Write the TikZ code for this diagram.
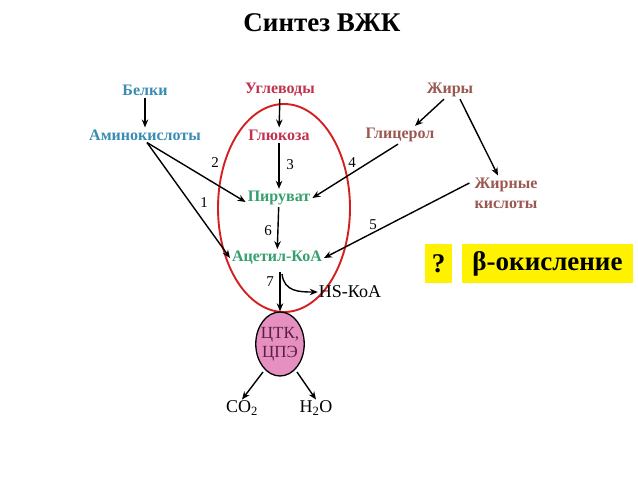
\documentclass[tikz,border=0pt]{standalone}
\usepackage{fontspec}
\setmainfont{Liberation Serif}
\usetikzlibrary{arrows.meta,shapes.geometric}
\definecolor{cblue}{HTML}{3A8CB2}
\definecolor{cred}{HTML}{C0334E}
\definecolor{cbrown}{HTML}{9A5850}
\definecolor{cgreen}{HTML}{35A06E}
\definecolor{cpink}{HTML}{E690C2}
\definecolor{cdark}{HTML}{5A2040}
\definecolor{ellred}{HTML}{D42020}
\tikzset{
  lbl/.style={font=\fontsize{16}{18}\selectfont\bfseries, inner sep=2pt},
  num/.style={font=\fontsize{15}{17}\selectfont, inner sep=0pt},
  arr/.style={-{Stealth[length=8pt,width=6.5pt]}, line width=1.4pt, black},
  ybox/.style={fill=yellow, font=\fontsize{27}{30}\selectfont\bfseries, minimum height=39pt, inner sep=3pt}
}
\begin{document}
\begin{tikzpicture}[x=1pt,y=-1pt]
\useasboundingbox (0,0) rectangle (638,479);
\node[font=\fontsize{27}{30}\selectfont\bfseries] (title) at (322,23) {Синтез ВЖК};
% red ellipse
\draw[ellred, line width=1.9pt] (284,208) ellipse [x radius=66, y radius=104];
% nodes
\node[lbl, cblue] (belki) at (145,90) {Белки};
\node[lbl, cblue] (amino) at (145,135) {Аминокислоты};
\node[lbl, cred] (uglev) at (280,90) {Углеводы};
\node[lbl, cred] (gluc) at (279,135) {Глюкоза};
\node[lbl, cbrown] (fats) at (450,90) {Жиры};
\node[lbl, cbrown] (glyc) at (400,135) {Глицерол};
\node[lbl, cbrown, align=center, font=\fontsize{16}{20}\selectfont\bfseries] (fatty) at (506,193) {Жирные\\кислоты};
\node[lbl, cgreen] (pyr) at (279,198) {Пируват};
\node[lbl, cgreen] (acet) at (277,258) {Ацетил-КоА};
\node[font=\fontsize{18}{20}\selectfont, inner sep=1pt] (hs) at (350,292) {HS-КоА};
\node[ellipse, draw=black, line width=1.3pt, fill=cpink, minimum width=46pt, minimum height=64pt, inner sep=-2pt,
      align=center, text=cdark, font=\fontsize{17}{19}\selectfont] (ctk) at (280,344) {ЦТК,\\ЦПЭ};
\node[font=\fontsize{18}{20}\selectfont, inner sep=1pt] (co2) at (242,408) {CO\textsubscript{2}};
\node[font=\fontsize{18}{20}\selectfont, inner sep=1pt] (h2o) at (316,408) {H\textsubscript{2}O};
\node[ybox, minimum width=27pt] (q) at (438.5,263.5) {?};
\node[ybox, minimum width=171pt] (beta) at (547.5,263.5) {β-окисление};
% arrows
\draw[arr] (belki) -- (amino);
\draw[arr] (uglev) -- (gluc);
\draw[arr] (gluc) -- (pyr);
\draw[arr] ([xshift=-6pt]fats.south) -- ([xshift=15pt]glyc.north);
\draw[arr] ([xshift=10pt]fats.south) -- ([xshift=-8pt]fatty.north);
\draw[arr] ([xshift=-2pt]glyc.south) -- (pyr.east);
\coordinate (am) at ([xshift=2pt]amino.south);
\draw[arr] (am) -- ([yshift=-4pt]pyr.west);
\draw[arr] (am) -- (acet.west);
\draw[arr] (pyr) -- (acet);
\draw[arr] ([xshift=-3pt, yshift=10pt]fatty.west) -- (acet.east);
\coordinate (c7) at (280,272);
\draw[arr] (c7) -- (ctk.north);
\coordinate (c7b) at (282,274);
\draw[arr] (c7b) .. controls (284,292) and (300,292) .. (hs.west);
\coordinate (cw) at (263,372);
\coordinate (ce) at (297,372);
\draw[arr] (cw) -- (co2.north);
\draw[arr] (ce) -- (h2o.north);
% numbers
\node[num] (n3) at (290,165) {3};
\node[num] (n2) at (215,163) {2};
\node[num] (n1) at (204,203) {1};
\node[num] (n4) at (352,163) {4};
\node[num] (n6) at (268,231) {6};
\node[num] (n5) at (373,225) {5};
\node[num] (n7) at (270,282) {7};
\end{tikzpicture}
\end{document}
